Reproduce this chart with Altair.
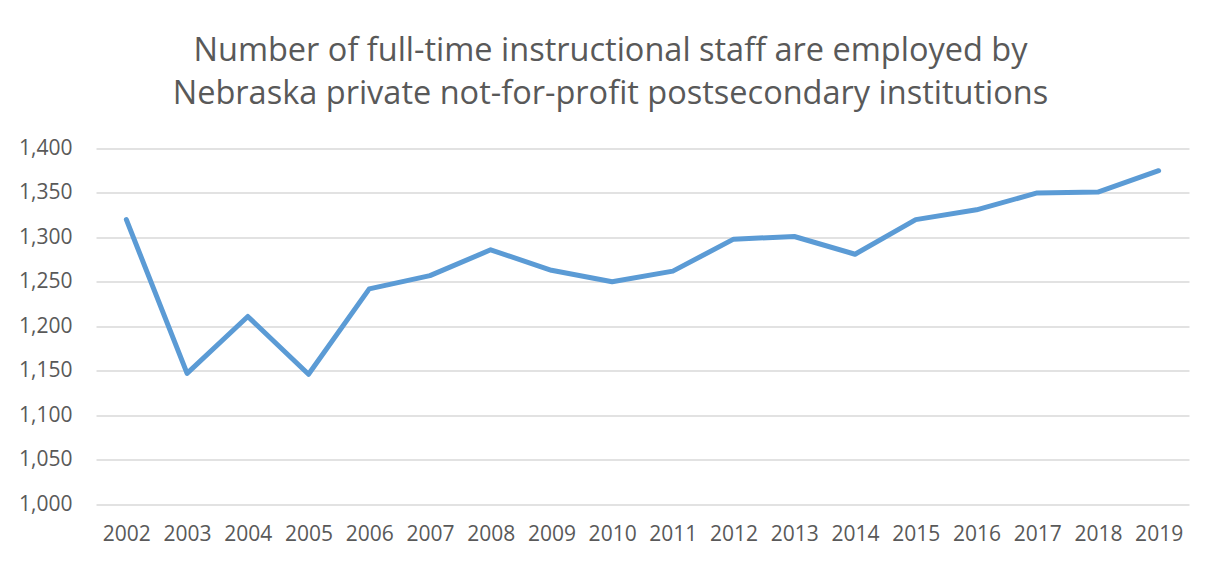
import altair as alt
import pandas as pd

years = [str(y) for y in range(2002, 2020)]
staff = [1320, 1147, 1211, 1146, 1242, 1257, 1286, 1263, 1250, 1262,
         1298, 1301, 1281, 1320, 1331, 1350, 1351, 1375]

df = pd.DataFrame({"year": years, "staff": staff})

TEXT = "#595959"
FONT = "Open Sans"

title = alt.Title(
    text=["Number of full-time instructional staff are employed by",
          "Nebraska private not-for-profit postsecondary institutions"],
    fontSize=32.5, font=FONT, fontWeight="normal", color=TEXT,
    anchor="middle", dx=-32, offset=27, lineHeight=43,
)

chart = alt.Chart(df, title=title).mark_line(
    color="#5B9BD5", strokeWidth=5, strokeCap="round", strokeJoin="round"
).encode(
    x=alt.X("year:O", sort=years,
            scale=alt.Scale(type="point", padding=0.5),
            axis=alt.Axis(title=None, labelAngle=0, ticks=False, domain=False,
                          labelFont=FONT, labelFontSize=21, labelColor=TEXT,
                          labelPadding=19)),
    y=alt.Y("staff:Q",
            scale=alt.Scale(domain=[1000, 1400], nice=False, zero=False),
            axis=alt.Axis(title=None, format=",d",
                          values=[1000, 1050, 1100, 1150, 1200, 1250, 1300, 1350, 1400],
                          ticks=False, domain=False,
                          labelFont=FONT, labelFontSize=21, labelColor=TEXT,
                          labelPadding=24, gridColor="#D9D9D9", gridWidth=1.3)),
).properties(
    width=1093, height=355.5,
    autosize=alt.AutoSizeParams(type="none"),
    padding={"left": 88, "top": 140.5, "right": 18, "bottom": 53},
).configure(background="white", view=alt.ViewConfig(stroke=None))

chart.save("out.html", embed_options={"renderer": "svg", "actions": False})
